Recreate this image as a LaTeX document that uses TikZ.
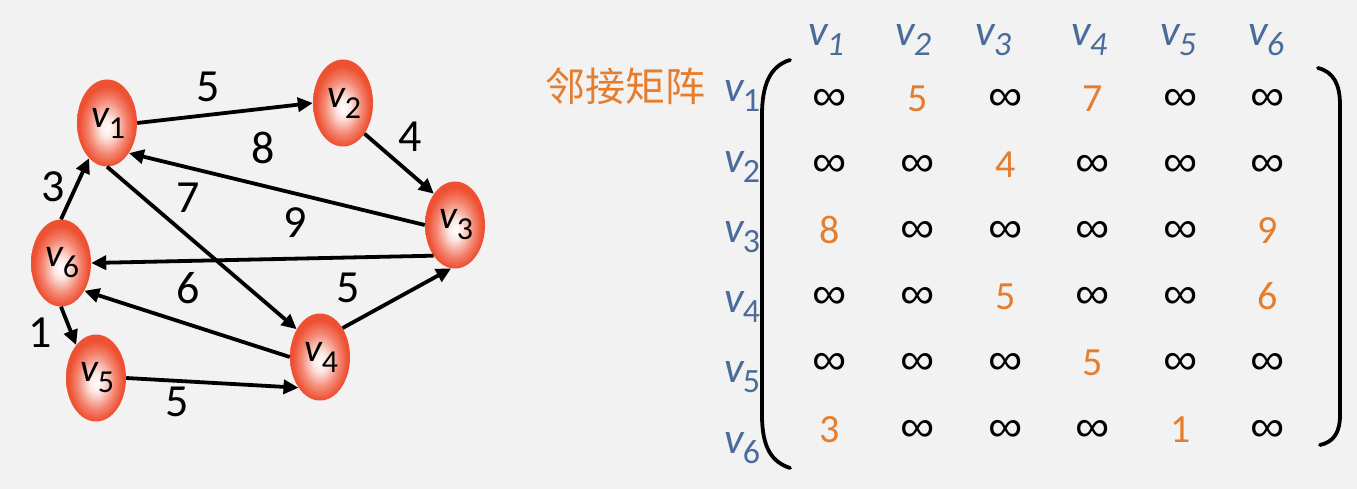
\documentclass[tikz,border=0pt]{standalone}
\usepackage{fontspec}
\setmainfont{Carlito}
\newfontfamily\cjk{Noto Sans CJK SC}
\newfontfamily\symf{Liberation Sans}
\usetikzlibrary{shapes.geometric,arrows.meta,matrix}
\definecolor{bg}{RGB}{242,242,242}
\definecolor{nodered}{RGB}{238,80,50}
\definecolor{orng}{RGB}{230,125,45}
\definecolor{vblue}{RGB}{74,108,155}
\pgfdeclareradialshading{ball}{\pgfpoint{0bp}{-3bp}}{color(0bp)=(white); color(6bp)=(white!85!nodered); color(16bp)=(nodered!70!white); color(23bp)=(nodered); color(25bp)=(nodered); color(50bp)=(nodered)}
\newcommand{\gv}[1]{\hspace*{3pt}{\fontsize{40}{40}\selectfont\itshape v}\kern-1pt\raisebox{-11pt}{\fontsize{32}{32}\selectfont #1}}
\newcommand{\hv}[1]{{\fontsize{44}{44}\selectfont\itshape v}\kern-1pt\raisebox{-10pt}{\fontsize{34}{34}\selectfont\itshape #1}}
\newcommand{\rv}[1]{{\fontsize{44}{44}\selectfont\itshape v}\kern-1pt\raisebox{-10pt}{\fontsize{34}{34}\selectfont #1}}
\newcommand{\oo}{\textcolor{orng}}
\newcommand{\infsym}{\raisebox{1pt}{\scalebox{1.2}[1.1]{\symf ∞}}}
\tikzset{
  vert/.style={ellipse, minimum width=60pt, minimum height=87pt, inner sep=0pt, shading=ball},
  edge/.style={line width=3.8pt, -{Triangle[length=15pt,width=14pt]}},
  wlab/.style={font=\fontsize{46}{46}\selectfont, inner sep=0pt},
  hlab/.style={text=vblue, inner sep=0pt, anchor=west},
  brk/.style={line width=3.8pt, line cap=round},
}
\begin{document}
\begin{tikzpicture}[x=1pt,y=-1pt]
\fill[bg] (0,0) rectangle (1357,489);
\useasboundingbox (0,0) rectangle (1357,489);
% graph
\node[vert] (v1) at (107,123) {\gv{1}};
\node[vert] (v2) at (343,103) {\gv{2}};
\node[vert] (v3) at (455,225) {\gv{3}};
\node[vert] (v4) at (320,357) {\gv{4}};
\node[vert] (v5) at (96,378) {\gv{5}};
\node[vert] (v6) at (61,263) {\gv{6}};
\draw[edge] (v1.0) -- (v2.180);
\draw[edge] (v2.-55) -- (v3.124);
\draw[edge] (v3.180) -- (v1.-54);
\draw[edge] (v1.-90) -- (v4.130);
\draw[edge] (v3.235) -- (v6.0);
\draw[edge] (v4.180) -- (v6.-50);
\draw[edge] (v4.52) -- (v3.-95);
\draw[edge] (v6.90) -- (v1.-117);
\draw[edge] (v6.-90) -- (v5.121);
\draw[edge] (v5.0) -- (v4.235);
\node[wlab] (w12) at (208,87) {5};
\node[wlab] (w23) at (410,137) {4};
\node[wlab] (w31) at (263,148) {8};
\node[wlab] (w14) at (188,198) {7};
\node[wlab] (w36) at (295,223) {9};
\node[wlab] (w46) at (188,288) {6};
\node[wlab] (w43) at (348,288) {5};
\node[wlab] (w61) at (53,187) {3};
\node[wlab] (w65) at (40,333) {1};
\node[wlab] (w54) at (177,402) {5};
% title
\node[text=orng, font=\cjk\fontsize{40}{40}\selectfont, inner sep=0pt] (title) at (625,86) {邻接矩阵};
% headers
\node[hlab] (h1) at (808,40) {\hv{1}};
\node[hlab] (h2) at (895,40) {\hv{2}};
\node[hlab] (h3) at (975,40) {\hv{3}};
\node[hlab] (h4) at (1071,40) {\hv{4}};
\node[hlab] (h5) at (1160,40) {\hv{5}};
\node[hlab] (h6) at (1248,40) {\hv{6}};
% row labels
\node[hlab] (r1) at (724,96) {\rv{1}};
\node[hlab] (r2) at (724,167) {\rv{2}};
\node[hlab] (r3) at (724,237) {\rv{3}};
\node[hlab] (r4) at (724,307) {\rv{4}};
\node[hlab] (r5) at (724,377) {\rv{5}};
\node[hlab] (r6) at (724,448) {\rv{6}};
% matrix
\matrix (M) [matrix of nodes, anchor=center, inner sep=0pt, column sep=0pt, row sep=0pt,
  nodes={minimum width=87.6pt, minimum height=66.2pt, inner sep=0pt, text height=28pt, text depth=0pt, font=\fontsize{40}{40}\selectfont}] at (1049,262.5) {
\infsym & \oo{5} & \infsym & \oo{7} & \infsym & \infsym \\
\infsym & \infsym & \oo{4} & \infsym & \infsym & \infsym \\
\oo{8} & \infsym & \infsym & \infsym & \infsym & \oo{9} \\
\infsym & \infsym & \oo{5} & \infsym & \infsym & \oo{6} \\
\infsym & \infsym & \infsym & \oo{5} & \infsym & \infsym \\
\oo{3} & \infsym & \infsym & \infsym & \oo{1} & \infsym \\
};
% brackets
\coordinate (lb1) at (790,60);
\coordinate (lb2) at (790,468);
\coordinate (rb1) at (1318,68);
\coordinate (rb2) at (1320,445);
\draw[brk] (lb1) .. controls (770,66) and (762,85) .. (762,115) -- (762,415) .. controls (762,448) and (772,462) .. (lb2);
\draw[brk] (rb1) .. controls (1334,72) and (1340,85) .. (1340,105) -- (1340,415) .. controls (1340,432) and (1334,442) .. (rb2);
\end{tikzpicture}
\end{document}
